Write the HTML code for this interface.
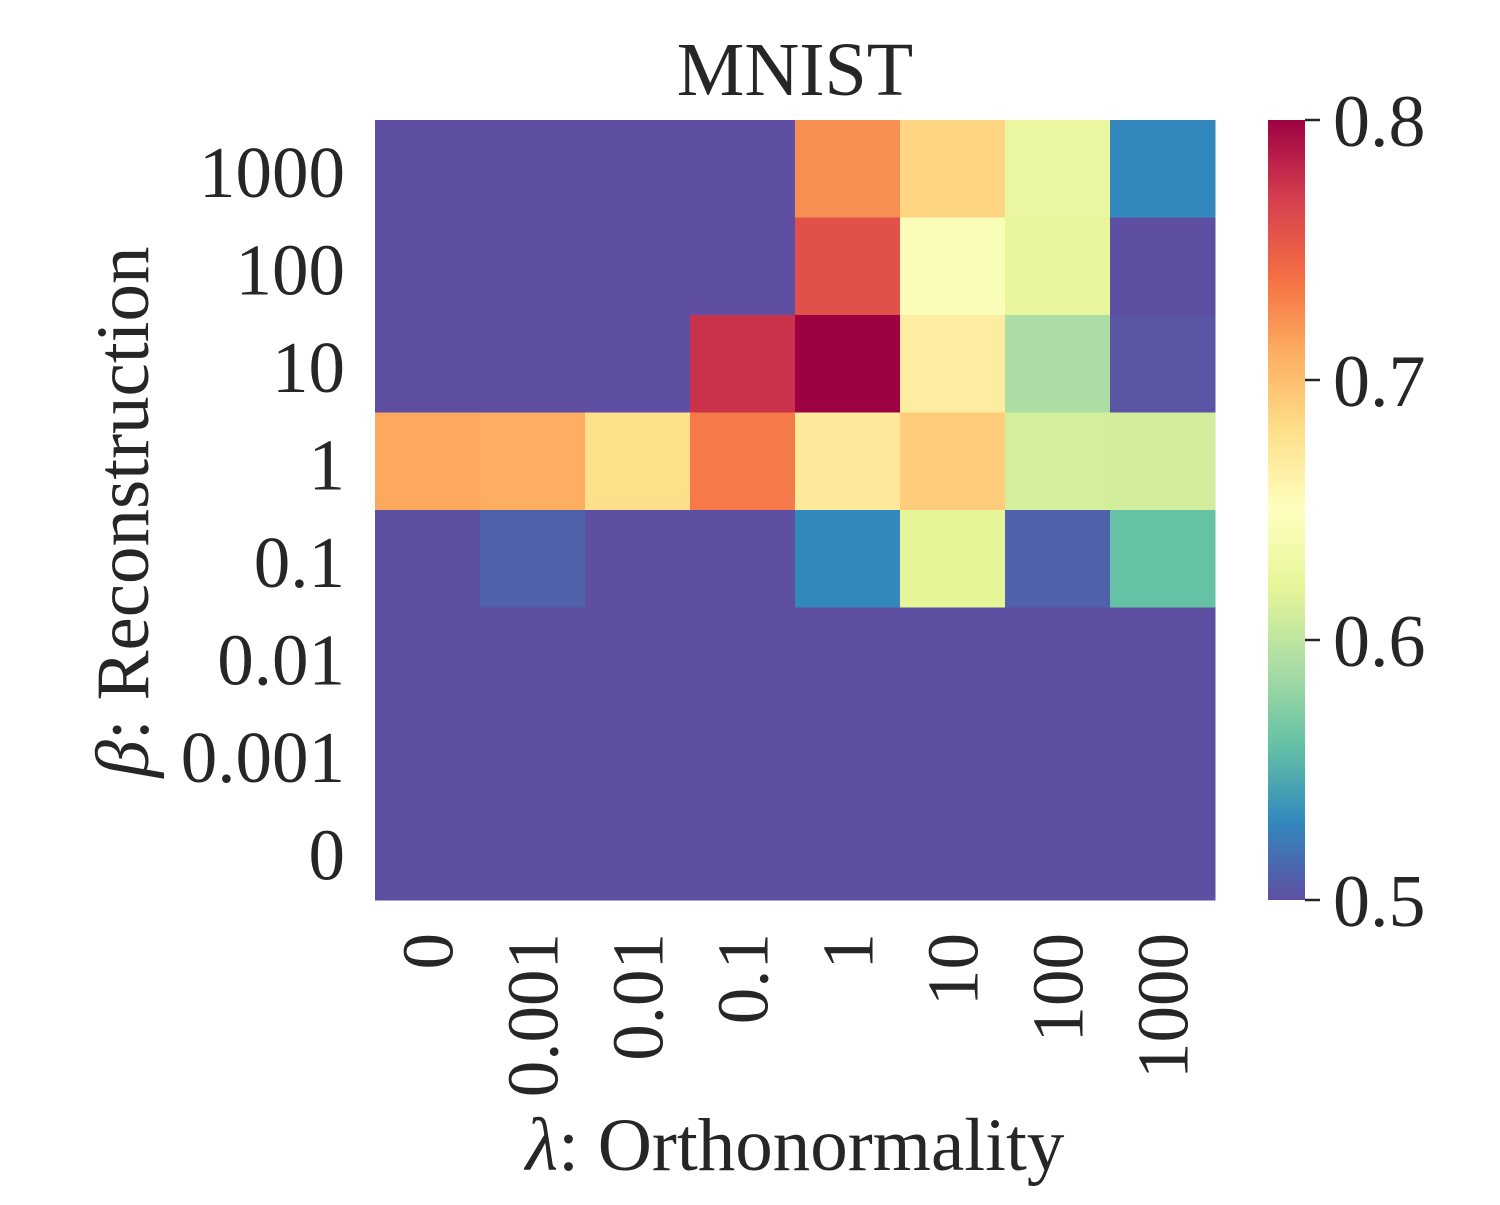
<!DOCTYPE html>
<html><head><meta charset="utf-8"><style>
body{margin:0;background:#fff}
svg text{font-family:"Liberation Serif",serif;fill:#262626}
</style></head><body>
<svg id="chart" width="1500" height="1200" xmlns="http://www.w3.org/2000/svg">
<defs><linearGradient id="cbgrad" x1="0" y1="1" x2="0" y2="0"></linearGradient></defs>
<text x="795" y="95" font-size="76" text-anchor="middle">MNIST</text>
<g id="cells"></g><g id="xt"></g><g id="yt"></g><g id="cb"></g>
<text x="795" y="1170" font-size="75" text-anchor="middle"><tspan font-style="italic">λ</tspan>: Orthonormality</text>
<text transform="translate(148,512) rotate(-90)" font-size="75" text-anchor="middle"><tspan font-style="italic">β</tspan>: Reconstruction</text>
</svg>
<script>
const xCats=["0","0.001","0.01","0.1","1","10","100","1000"];
const yCats=["1000","100","10","1","0.1","0.01","0.001","0"];
const row1000=[0.5,0.5,0.5,0.5,0.725,0.686,0.626,0.53];
const row100=[0.5,0.5,0.5,0.5,0.758,0.644,0.623,0.5];
const row10=[0.5,0.5,0.5,0.776,0.8,0.668,0.59,0.503];
const row1=[0.713,0.71,0.68,0.734,0.671,0.692,0.611,0.61];
const row01=[0.5,0.51,0.5,0.5,0.53,0.62,0.51,0.56];
const row001=[0.5,0.5,0.5,0.5,0.5,0.5,0.5,0.5];
const row0001=[0.5,0.5,0.5,0.5,0.5,0.5,0.5,0.5];
const row0=[0.5,0.5,0.5,0.5,0.5,0.5,0.5,0.5];
const values=[row1000,row100,row10,row1,row01,row001,row0001,row0];
const cbTicks=[0.5,0.6,0.7,0.8];
const vmin=0.5,vmax=0.8;
const X0=375,X1=1215,Y0=120,Y1=900;
const cw=(X1-X0)/xCats.length,ch=(Y1-Y0)/yCats.length;
const xPos=i=>X0+i*cw, yPos=j=>Y0+j*ch;
const spec=["#5e4fa2","#3288bd","#66c2a5","#abdda4","#e6f598","#ffffbf","#fee08b","#fdae61","#f46d43","#d53e4f","#9e0142"];
function hex(h){return [1,3,5].map(k=>parseInt(h.substr(k,2),16));}
function cmap(v){let t=Math.max(0,Math.min(1,(v-vmin)/(vmax-vmin)))*10;let i=Math.min(9,Math.floor(t)),f=t-i;
const a=hex(spec[i]),b=hex(spec[i+1]);return "rgb("+a.map((c,k)=>Math.round(c+(b[k]-c)*f)).join(",")+")";}
const NS="http://www.w3.org/2000/svg";
function mk(tag,attrs,parent,txt){const e=document.createElementNS(NS,tag);for(const k in attrs)e.setAttribute(k,attrs[k]);if(txt!=null)e.textContent=txt;parent.appendChild(e);return e;}
const cells=document.getElementById('cells');
values.forEach((row,j)=>row.forEach((v,i)=>{
const r=mk('rect',{x:xPos(i),y:yPos(j),width:cw+0.5,height:ch+0.5,fill:cmap(v)},cells);


}));
const xt=document.getElementById('xt');
xCats.forEach((c,i)=>{const cx=xPos(i)+cw/2+25;
const t=mk('text',{transform:`translate(${cx},933) rotate(-90)`,'font-size':73,'text-anchor':'end'},xt,c);

});
const yt=document.getElementById('yt');
yCats.forEach((c,j)=>{const t=mk('text',{x:345,y:yPos(j)+ch/2+28,'font-size':73,'text-anchor':'end'},yt,c);

});
const g=document.getElementById('cbgrad');
spec.forEach((c,k)=>mk('stop',{offset:(k*10)+'%','stop-color':c},g));
const cb=document.getElementById('cb');
const bar=mk('rect',{x:1268,y:Y0,width:37,height:Y1-Y0,fill:'url(#cbgrad)'},cb);


const cy=v=>Y1-(v-vmin)/(vmax-vmin)*(Y1-Y0);
cbTicks.forEach(v=>{mk('line',{x1:1305,x2:1320,y1:cy(v),y2:cy(v),stroke:'#262626','stroke-width':2.5},cb);
const t=mk('text',{x:1333,y:cy(v)+26,'font-size':74},cb,v.toFixed(1));

});
</script>
</body></html>
